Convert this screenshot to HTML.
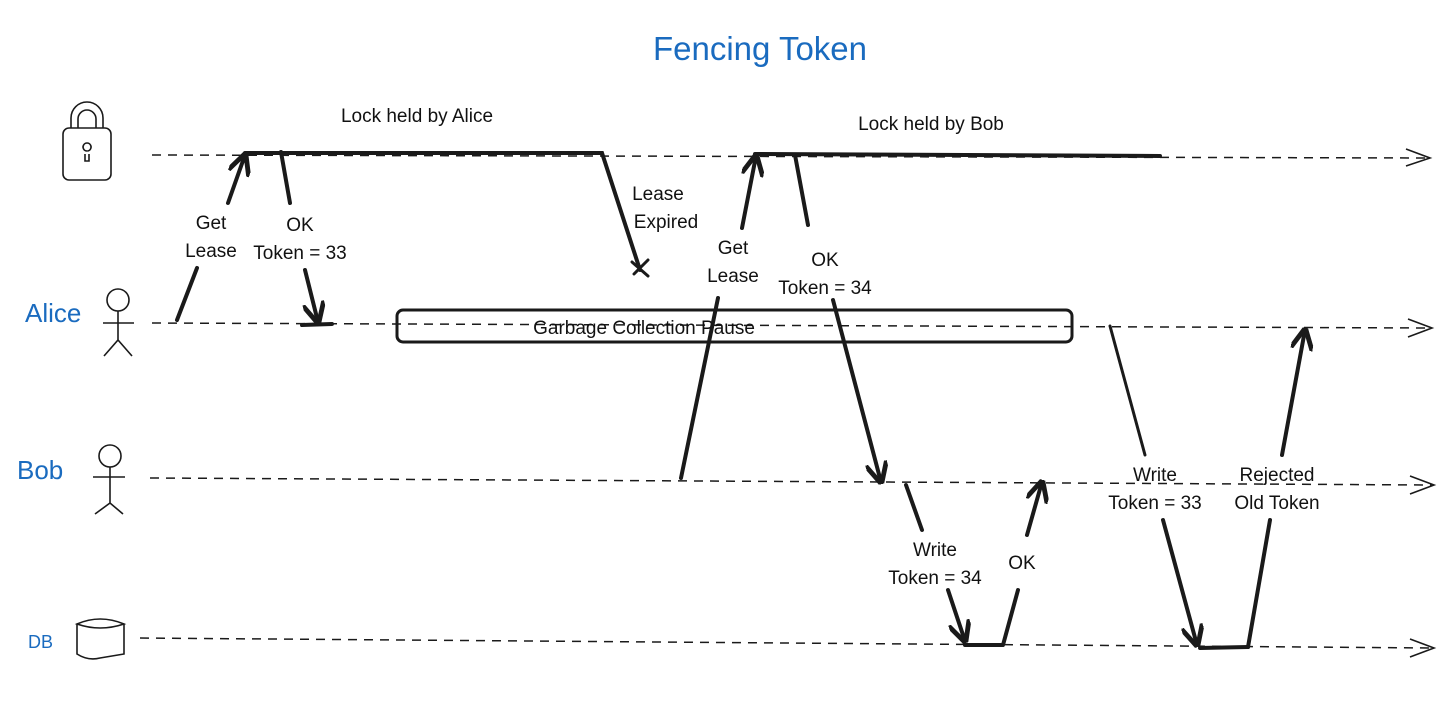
<!DOCTYPE html>
<html><head><meta charset="utf-8"><style>
html,body{margin:0;padding:0;background:#fff;}
svg{display:block;}
text{font-family:"Liberation Sans",sans-serif;}
</style></head><body>
<svg width="1456" height="704" viewBox="0 0 1456 704" xmlns="http://www.w3.org/2000/svg">
<defs>
<marker id="ah" viewBox="0 0 10 10" refX="9" refY="5" markerWidth="5.5" markerHeight="5.5" orient="auto-start-reverse">
<path d="M0,0 L10,5 L0,10" fill="none" stroke="#1a1a1a" stroke-width="2.2"/>
</marker>
</defs>
<text x="760" y="60" text-anchor="middle" font-size="33" fill="#1a6bbf">Fencing Token</text>
<g stroke="#1a1a1a" stroke-width="1.5" stroke-dasharray="9,7" fill="none">
<line x1="152" y1="155" x2="1428" y2="158"/>
<line x1="152" y1="323" x2="1430" y2="328"/>
<line x1="150" y1="478" x2="1432" y2="485"/>
<line x1="140" y1="638" x2="1432" y2="648"/>
</g>
<g stroke="#1a1a1a" stroke-width="1.6" fill="none">
<path d="M1406,149 L1430,158 L1406,166"/>
<path d="M1408,319 L1432,328 L1408,337"/>
<path d="M1410,476 L1434,485 L1410,494"/>
<path d="M1410,639 L1434,648 L1410,657"/>
</g>
<g stroke="#1a1a1a" stroke-width="1.6" fill="none">
<rect x="63" y="128" width="48" height="52" rx="6"/>
<path d="M71,128 V118 a16,16 0 0 1 32,0 V128"/>
<path d="M78,128 V119 a9,9 0 0 1 18,0 V128"/>
<path d="M87,151 a4,4 0 1 1 0.1,0 M85,154 v7 h4 v-7"/>
<circle cx="118" cy="300" r="11"/>
<path d="M118,311 V340 M103,323 H134 M104,356 L118,340 L132,356"/>
<circle cx="110" cy="456" r="11"/>
<path d="M110,467 V503 M93,477 H125 M95,514 L110,503 L123,514"/>
<path d="M77,624 Q100,614 124,624 Q100,632 77,624 Z M77,624 V654 Q88,661 100,658 Q112,656 124,654 V624"/>
</g>
<text x="25" y="322" font-size="26" fill="#1a6bbf">Alice</text>
<text x="17" y="479" font-size="26" fill="#1a6bbf">Bob</text>
<text x="28" y="648" font-size="18" fill="#1a6bbf">DB</text>
<g font-size="19" fill="#111" text-anchor="middle">
<text x="417" y="122">Lock held by Alice</text>
<text x="931" y="130">Lock held by Bob</text>
<text x="211" y="229">Get</text><text x="211" y="257">Lease</text>
<text x="300" y="231">OK</text><text x="300" y="259">Token = 33</text>
<text x="658" y="200">Lease</text><text x="666" y="228">Expired</text>
<text x="733" y="254">Get</text><text x="733" y="282">Lease</text>
<text x="825" y="266">OK</text><text x="825" y="294">Token = 34</text>
<text x="644" y="334">Garbage Collection Pause</text>
<text x="935" y="556">Write</text><text x="935" y="584">Token = 34</text>
<text x="1022" y="569">OK</text>
<text x="1155" y="481">Write</text><text x="1155" y="509">Token = 33</text>
<text x="1277" y="481">Rejected</text><text x="1277" y="509">Old Token</text>
</g>
<rect x="397" y="310" width="675" height="32" rx="6" fill="none" stroke="#1a1a1a" stroke-width="3"/>
<g stroke="#1a1a1a" stroke-width="4" fill="none" stroke-linecap="round">
<path d="M245,153 H602 L640,270"/>
<path d="M632,262 L648,276 M648,260 L634,274" stroke-width="3"/>
<path d="M755,154 L1160,156"/>
<line x1="177" y1="320" x2="197" y2="268"/>
<line x1="228" y1="203" x2="245" y2="155" marker-end="url(#ah)"/>
<line x1="281" y1="152" x2="290" y2="203"/>
<line x1="305" y1="270" x2="318" y2="322" marker-end="url(#ah)"/>
<line x1="302" y1="325" x2="332" y2="324"/>
<line x1="681" y1="478" x2="718" y2="298"/>
<line x1="742" y1="228" x2="756" y2="156" marker-end="url(#ah)"/>
<line x1="795" y1="155" x2="808" y2="225"/>
<line x1="833" y1="300" x2="881" y2="482" marker-end="url(#ah)"/>
<line x1="906" y1="485" x2="922" y2="530"/>
<line x1="948" y1="590" x2="965" y2="641" marker-end="url(#ah)"/>
<line x1="965" y1="645" x2="1002" y2="645"/>
<line x1="1003" y1="645" x2="1018" y2="590"/>
<line x1="1027" y1="535" x2="1042" y2="482" marker-end="url(#ah)"/>
<line x1="1110" y1="326" x2="1145" y2="455" stroke-width="3"/>
<line x1="1163" y1="520" x2="1197" y2="645" marker-end="url(#ah)"/>
<line x1="1200" y1="648" x2="1248" y2="647"/>
<line x1="1248" y1="647" x2="1270" y2="520"/>
<line x1="1282" y1="455" x2="1305" y2="330" marker-end="url(#ah)"/>
</g>
</svg>
</body></html>
